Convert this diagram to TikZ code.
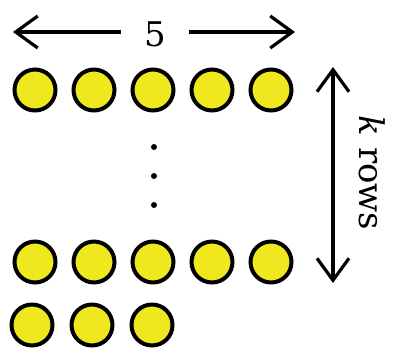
\documentclass[tikz,border=0pt]{standalone}
\usepackage{fontspec}
\setmainfont{DejaVu Serif}
\usetikzlibrary{arrows.meta}

\definecolor{dotyellow}{RGB}{240,232,30}

\begin{document}
\begin{tikzpicture}[
  x=1pt, y=-1pt,
  >={Straight Barb[length=22pt, width=32pt, line width=3.2pt]},
  font=\fontsize{34}{40}\selectfont,
  ball/.style={draw, circle, line width=4pt, fill=dotyellow, minimum size=41pt, inner sep=0pt},
  gapdot/.style={circle, fill=black, minimum size=6pt, inner sep=0pt},
  dim/.style={line width=3.2pt}
]
\useasboundingbox (0,0) rectangle (401,360);

% ---------- WIDTH LABEL ----------
\coordinate (wl) at (13,32);
\coordinate (wr) at (295,32);
\node[inner xsep=23pt, inner ysep=0pt] (five) at (155,34) {5};
\draw[dim, ->] (five.west |- wl) -- (wl);
\draw[dim, ->] (five.east |- wr) -- (wr);

% ---------- BALL ROWS ----------
\foreach \i in {1,...,5} {
  \node[ball] (a\i) at ({35+59*(\i-1)},90) {};
  \node[ball] (b\i) at ({35+59*(\i-1)},262) {};
}
\foreach \i in {1,...,3}
  \node[ball] (c\i) at ({32+60*(\i-1)},325) {};

% ---------- VERTICAL DOTS ----------
\node[gapdot] (d1) at (154,147) {};
\node[gapdot] (d2) at (154,176) {};
\node[gapdot] (d3) at (154,205) {};

% ---------- ROW COUNT ----------
\coordinate (kt) at (333,67);
\coordinate (kb) at (333,283);
\draw[dim, <->] (kt) -- (kb);
\node[rotate=-90] (krows) at (372,173) {\textit{k} rows};

\end{tikzpicture}
\end{document}
